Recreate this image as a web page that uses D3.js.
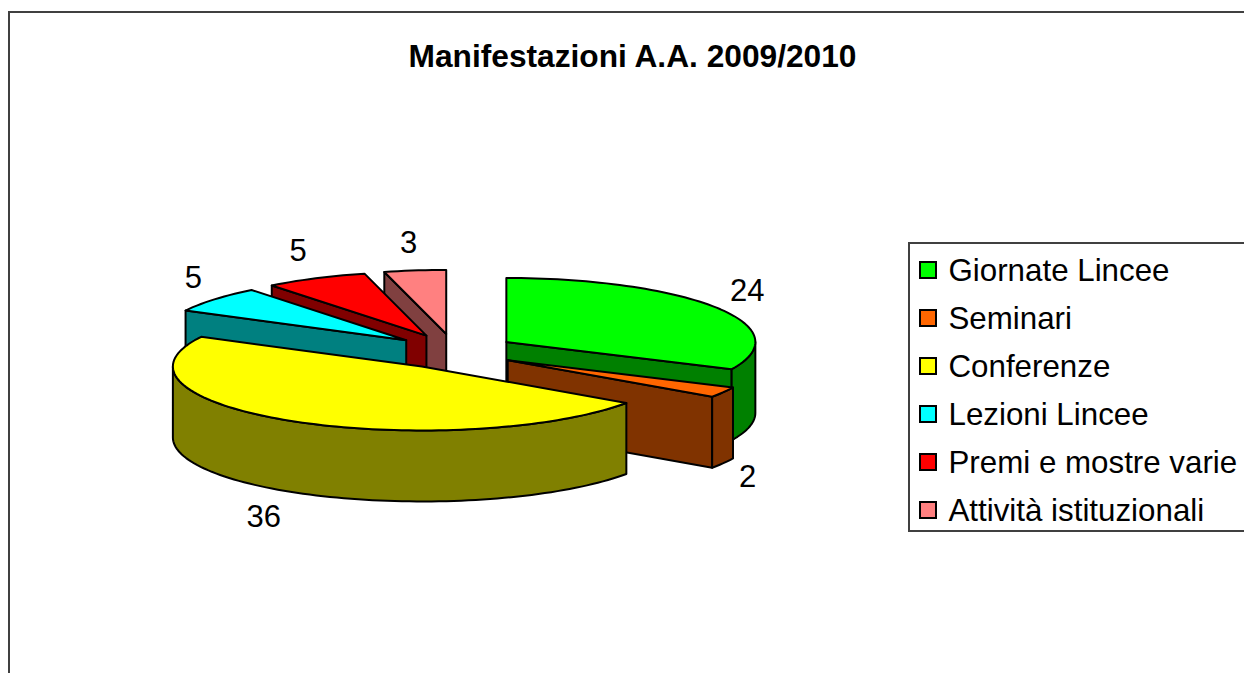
<!DOCTYPE html>
<html>
<head>
<meta charset="utf-8">
<script src="https://cdn.jsdelivr.net/npm/d3@7"></script>
<style>
html,body{margin:0;padding:0;background:#fff;overflow:hidden}
svg{display:block}
text{font-family:"Liberation Sans",Arial,sans-serif;fill:#000}
</style>
</head>
<body>
<div id="chart"></div>
<script>
const chartTitle = "Manifestazioni A.A. 2009/2010";
const categories = ["Giornate Lincee","Seminari","Conferenze","Lezioni Lincee","Premi e mostre varie","Attività istituzionali"];
const values = [24,2,36,5,5,3];
const colors = ["#00ff00","#ff6600","#ffff00","#00ffff","#ff0000","#ff8080"];

const W = 1244, H = 673;
const cx = 454, cy = 351.4, rx = 249, ry = 64, depth = 71;
const explodeX = 0.249, explodeY = 0.275;
const labelNudge = [[1,-1],[-6,-3],[-11,-4],[6,-2],[-2,0],[-2,3]];

const svg = d3.select("#chart").append("svg").attr("width",W).attr("height",H);
svg.append("rect").attr("width",W).attr("height",H).attr("fill","#fff");

// frame, open on the right and bottom
svg.append("path").attr("d",`M9,${H}V12H${W}`).attr("fill","none").attr("stroke","#404040").attr("stroke-width",2);

svg.append("text").attr("x",632.5).attr("y",67).attr("text-anchor","middle")
  .attr("font-size",31.7).attr("font-weight","bold").text(chartTitle);

const xS = d3.scaleLinear().domain([-1,1]).range([cx-rx,cx+rx]);
const yS = d3.scaleLinear().domain([-1,1]).range([cy-ry,cy+ry]);
const line = d3.line();
const arcs = d3.pie().sort(null).startAngle(0).endAngle(2*Math.PI)(values);

const slices = arcs.map((a,i)=>{
  const mid = (a.startAngle+a.endAngle)/2;
  const ox = explodeX*Math.sin(mid), oy = -explodeY*Math.cos(mid);
  const pt = (ang,r=1,z=0)=>[xS(ox+r*Math.sin(ang)), yS(oy-r*Math.cos(ang))+z];
  const c = d3.rgb(colors[i]);
  return {i,a0:a.startAngle,a1:a.endAngle,mid,pt,color:colors[i],
          dark:d3.rgb(c.r/2,c.g/2,c.b/2).formatHex(),
          apexY:pt(0,0)[1]};
});

const sample = (a,b)=>{const n=Math.max(2,Math.ceil((b-a)/0.03));return d3.range(n+1).map(k=>a+(b-a)*k/n);};
const face = (g,pts,fill)=>g.append("path").attr("d",line(pts)+"Z").attr("fill",fill)
   .attr("stroke","#000").attr("stroke-width",2).attr("stroke-linejoin","round");

const pieG = svg.append("g");
slices.slice().sort((p,q)=>d3.ascending(p.apexY,q.apexY)).forEach(s=>{
  const g = pieG.append("g");
  const radial = ang=>[s.pt(ang,0,0),s.pt(ang,1,0),s.pt(ang,1,depth),s.pt(ang,0,depth)];
  if (s.a1>0 && s.a1<Math.PI) face(g,radial(s.a1),s.dark);
  if (s.a0>Math.PI && s.a0<2*Math.PI) face(g,radial(s.a0),s.dark);
  const from = Math.max(s.a0,Math.PI/2), to = Math.min(s.a1,3*Math.PI/2);
  if (to>from){
    const as = sample(from,to);
    face(g,as.map(t=>s.pt(t,1,0)).concat(as.slice().reverse().map(t=>s.pt(t,1,depth))),s.dark);
  }
  face(g,[s.pt(0,0)].concat(sample(s.a0,s.a1).map(t=>s.pt(t))),s.color);
});

// value labels
slices.forEach(s=>{
  const sinM = Math.sin(s.mid), cosM = Math.cos(s.mid);
  const p = s.pt(s.mid,1,cosM<0?depth:0);
  svg.append("text")
    .attr("x",p[0]+35*sinM+labelNudge[s.i][0])
    .attr("y",p[1]-32*cosM+labelNudge[s.i][1]+11)
    .attr("text-anchor","middle").attr("font-size",31).text(values[s.i]);
});

// legend, open on the right
svg.append("path").attr("d",`M${W},243H909V531H${W}`).attr("fill","none").attr("stroke","#404040").attr("stroke-width",2);
const leg = svg.selectAll("g.leg").data(categories).enter().append("g").attr("class","leg")
  .attr("transform",(d,i)=>`translate(0,${270+i*48})`);
leg.append("rect").attr("x",920).attr("y",-8).attr("width",16).attr("height",16)
  .attr("fill",(d,i)=>colors[i]).attr("stroke","#000").attr("stroke-width",2);
leg.append("text").attr("x",948.5).attr("y",10.5).attr("font-size",31.3).text(d=>d);
</script>
</body>
</html>
